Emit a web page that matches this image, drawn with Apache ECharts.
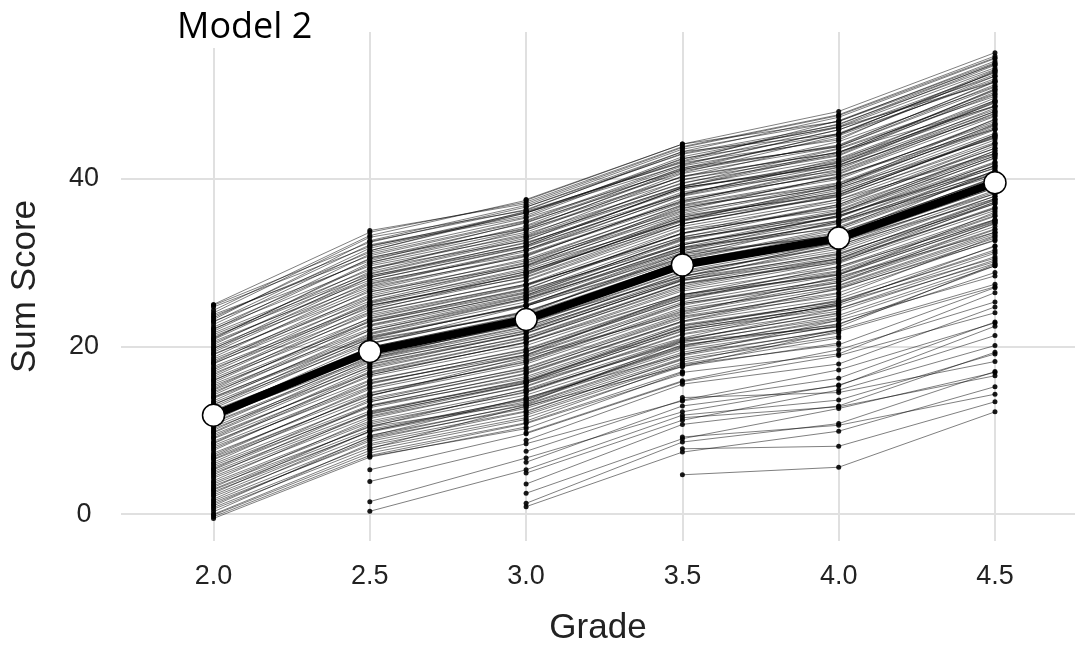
<!DOCTYPE html>
<html>
<head>
<meta charset="utf-8">
<script src="https://cdn.jsdelivr.net/npm/echarts@6/dist/echarts.min.js"></script>
<style>
html,body{margin:0;padding:0;background:#fff;}
#chart{width:1075px;height:651px;}
</style>
</head>
<body>
<div id="chart"></div>
<script>
// Grades (x positions) and tick labels
const grades = [2.0, 2.5, 3.0, 3.5, 4.0, 4.5];
const xTicks = [2.0, 2.5, 3.0, 3.5, 4.0, 4.5];
const yTicks = [0, 20, 40];

// Mean trajectory (thick line with white points)
const meanScores = [11.8, 19.4, 23.2, 29.7, 32.9, 39.5];

// Individual trajectories, one row per student: scores at grades 2.0 ... 4.5 (null = not observed)
const cohortFrom20 = [
  [25.0, 33.6, 37.2, 43.8, 47.6, 54.6],
  [24.9, 32.4, 36.6, 42.9, 46.1, 53.0],
  [24.7, 31.9, 36.0, 42.1, 46.9, 53.8],
  [24.3, 33.2, 37.4, 44.1, 48.0, 55.0],
  [24.0, 33.0, 36.2, 43.2, 47.3, 54.3],
  [23.8, 30.8, 34.9, 41.5, 44.8, 52.2],
  [23.6, 31.2, 35.3, 41.0, 45.4, 52.4],
  [23.4, 32.1, 35.6, 42.6, 46.2, 53.5],
  [23.2, 32.6, 36.8, 43.5, 46.8, 54.0],
  [23.0, 30.2, 34.8, 40.7, 45.1, 51.9],
  [22.9, 31.7, 35.9, 42.3, 46.5, 53.2],
  [22.6, 31.4, 36.1, 41.9, 44.6, 52.8],
  [22.3, 30.4, 34.1, 40.9, 44.0, 51.5],
  [22.1, 29.6, 33.2, 40.3, 43.1, 50.6],
  [22.0, 31.0, 35.0, 41.7, 45.8, 52.6],
  [21.8, 30.5, 34.7, 41.2, 45.3, 51.7],
  [21.6, 29.1, 33.9, 39.8, 43.6, 50.1],
  [21.4, 28.7, 32.9, 39.1, 42.4, 49.3],
  [21.2, 28.4, 32.3, 38.7, 42.1, 49.6],
  [21.0, 29.8, 33.6, 40.6, 43.8, 51.2],
  [20.9, 30.0, 34.3, 40.2, 44.4, 51.0],
  [20.8, 29.3, 32.6, 39.9, 42.8, 50.7],
  [20.6, 27.9, 31.8, 38.2, 41.9, 48.6],
  [20.4, 28.2, 32.0, 38.9, 41.5, 49.1],
  [20.2, 28.9, 33.1, 39.5, 42.7, 50.3],
  [20.0, 27.5, 31.5, 37.9, 41.3, 48.0],
  [19.8, 27.1, 30.7, 37.6, 40.5, 47.4],
  [19.7, 28.6, 32.7, 39.0, 43.0, 50.0],
  [19.5, 28.2, 32.4, 38.1, 42.0, 49.0],
  [19.3, 27.7, 31.0, 37.3, 41.1, 48.4],
  [19.1, 26.5, 30.2, 36.9, 40.1, 46.8],
  [19.0, 26.9, 30.9, 37.1, 40.8, 47.7],
  [18.7, 27.4, 31.3, 38.0, 41.6, 48.2],
  [18.5, 26.0, 30.0, 36.5, 39.5, 46.4],
  [18.3, 25.8, 29.6, 35.7, 39.2, 46.1],
  [18.1, 26.7, 30.8, 37.4, 40.6, 47.8],
  [18.0, 25.4, 29.7, 36.4, 40.2, 46.6],
  [17.9, 26.2, 30.4, 36.8, 39.9, 47.0],
  [17.6, 24.9, 28.5, 35.4, 38.3, 45.2],
  [17.4, 24.6, 28.9, 35.0, 38.9, 44.8],
  [17.2, 25.7, 29.9, 35.9, 39.4, 45.9],
  [17.0, 25.2, 29.3, 36.1, 39.0, 46.3],
  [16.8, 24.1, 27.8, 34.3, 37.5, 44.1],
  [16.6, 25.1, 28.9, 34.6, 38.1, 45.0],
  [16.4, 24.8, 28.6, 35.2, 38.6, 45.4],
  [16.2, 23.8, 27.4, 34.0, 37.2, 43.6],
  [16.0, 23.3, 27.2, 33.5, 36.6, 43.0],
  [15.9, 24.4, 28.3, 34.9, 38.4, 44.9],
  [15.7, 24.0, 27.9, 34.6, 37.9, 44.3],
  [15.5, 22.9, 26.5, 33.1, 35.9, 42.7],
  [15.3, 22.6, 26.3, 32.8, 35.8, 42.4],
  [15.1, 23.1, 26.8, 33.9, 36.3, 43.3],
  [14.9, 23.4, 27.3, 33.4, 36.9, 43.6],
  [14.8, 22.1, 26.0, 32.1, 35.5, 42.0],
  [14.6, 21.9, 25.7, 32.3, 35.0, 41.5],
  [14.4, 23.0, 26.9, 33.5, 36.7, 43.9],
  [14.2, 22.5, 26.4, 32.7, 36.2, 42.9],
  [14.0, 21.2, 24.9, 31.6, 34.6, 40.9],
  [13.9, 21.5, 25.6, 31.8, 35.6, 41.2],
  [13.8, 21.1, 24.8, 31.2, 34.3, 40.7],
  [13.5, 21.9, 25.9, 32.1, 35.4, 41.8],
  [13.3, 20.9, 25.0, 31.0, 34.9, 40.8],
  [13.1, 20.4, 24.1, 30.6, 33.6, 40.0],
  [13.0, 21.4, 25.3, 31.7, 35.0, 41.9],
  [12.8, 21.0, 24.9, 31.4, 34.7, 41.3],
  [12.6, 20.7, 23.9, 30.9, 33.2, 40.2],
  [12.4, 19.6, 23.3, 29.7, 32.5, 39.1],
  [12.2, 19.9, 23.7, 30.0, 33.0, 39.4],
  [12.0, 20.3, 24.2, 30.3, 33.9, 40.6],
  [11.9, 19.2, 23.0, 29.4, 32.6, 38.9],
  [11.7, 18.9, 22.6, 28.9, 31.8, 38.2],
  [11.5, 18.6, 22.4, 28.4, 31.3, 37.9],
  [11.3, 19.5, 23.4, 29.8, 33.1, 39.7],
  [11.1, 19.9, 23.8, 30.1, 33.5, 40.1],
  [11.0, 18.5, 22.3, 28.6, 32.3, 38.4],
  [10.9, 18.2, 21.8, 28.1, 31.0, 37.4],
  [10.6, 18.8, 22.7, 29.0, 32.4, 38.9],
  [10.4, 17.8, 21.5, 27.9, 31.1, 37.0],
  [10.2, 17.5, 21.1, 27.4, 30.2, 36.6],
  [10.0, 18.4, 22.1, 28.7, 32.0, 38.6],
  [9.8, 18.1, 21.9, 28.3, 31.6, 37.9],
  [9.7, 17.6, 21.6, 27.8, 30.9, 37.6],
  [9.5, 16.8, 20.4, 26.6, 29.5, 35.8],
  [9.3, 17.0, 20.9, 27.0, 30.4, 36.4],
  [9.1, 17.3, 21.2, 27.5, 30.7, 37.2],
  [9.0, 16.4, 20.1, 26.2, 29.0, 35.5],
  [8.7, 16.0, 19.6, 25.9, 28.7, 35.1],
  [8.5, 16.9, 20.8, 27.2, 30.5, 37.0],
  [8.4, 16.6, 20.5, 26.8, 30.1, 36.5],
  [8.2, 15.6, 19.3, 25.6, 28.9, 35.0],
  [8.0, 15.2, 18.9, 25.1, 28.0, 34.3],
  [7.8, 15.5, 19.4, 25.8, 28.6, 34.8],
  [7.6, 15.9, 19.7, 26.0, 29.3, 35.6],
  [7.3, 14.5, 18.1, 24.4, 27.2, 33.4],
  [7.1, 14.9, 18.6, 24.9, 28.1, 34.6],
  [6.9, 15.1, 19.0, 25.3, 28.5, 34.9],
  [6.8, 14.1, 18.4, 24.2, 27.6, 33.9],
  [6.6, 14.2, 17.9, 24.1, 27.3, 33.6],
  [6.5, 13.8, 17.4, 23.6, 26.4, 32.7],
  [6.2, 14.4, 18.2, 24.6, 27.8, 34.0],
  [6.0, 13.4, 17.2, 23.3, 26.8, 32.9],
  [5.8, 13.0, 16.7, 22.9, 25.7, 31.9],
  [5.6, 12.7, 16.4, 22.6, 25.3, 31.5],
  [5.4, 13.6, 17.5, 23.8, 27.0, 33.2],
  [5.3, 12.9, 16.2, 22.4, 25.4, 31.3],
  [5.1, 12.3, 15.9, 22.1, 24.9, 31.1],
  [4.9, 12.0, 15.6, 21.9, 24.5, 30.7],
  [4.7, 12.9, 16.8, 23.0, 26.3, null],
  [4.5, 11.9, 15.7, 21.8, 25.0, null],
  [4.3, 11.6, 15.2, 21.4, 24.2, 30.3],
  [4.0, 12.1, 16.0, 22.2, 25.5, null],
  [3.8, 11.1, 14.8, 20.4, 23.7, 29.9],
  [3.6, 10.9, 14.5, 20.6, 23.4, 29.6],
  [3.4, 10.4, 14.9, 20.9, 23.9, null],
  [3.2, 11.4, 15.3, 21.5, 24.8, null],
  [3.0, 10.5, 14.2, 20.1, 23.1, null],
  [2.9, 10.1, 13.7, 19.9, 22.7, 28.8],
  [2.7, 9.8, 13.4, 19.6, 22.4, null],
  [2.5, 10.7, 14.6, 20.8, 24.0, null],
  [2.3, 9.9, 13.6, 19.8, null, null],
  [2.1, 9.4, 13.0, 19.1, 21.9, null],
  [1.8, 9.9, 13.8, 20.0, 23.3, null],
  [1.6, 9.1, 12.6, 18.6, 21.6, null],
  [1.4, 8.7, 12.3, 18.4, 21.2, null],
  [1.2, 8.9, 12.8, 18.9, 22.0, null],
  [1.0, 9.2, 13.1, 19.3, 22.5, null],
  [0.8, 8.2, 11.8, 17.9, 21.0, null],
  [0.6, 7.9, 11.5, 17.6, 20.4, null],
  [0.3, 8.4, 12.2, 18.5, null, null],
  [0.0, 7.6, 11.3, null, null, null],
  [-0.1, 7.3, 10.9, 17.0, null, null],
  [-0.3, 7.0, 10.8, 16.7, null, null],
  [-0.5, 6.8, 10.4, null, null, null]
];

const cohortFrom25 = [
  [null, 0.35, 5.3, 11.8, 13.6, 19.1],
  [null, 1.5, 6.7, 12.2, 15.4, 21.3],
  [null, 3.9, 8.4, 13.5, 16.2, 22.9],
  [null, 5.3, 9.6, 15.8, 18.9, 24.0],
  [null, 6.9, 10.2, 16.9, 19.1, 26.4],
  [null, 7.8, 12.9, 17.6, 21.8, 27.1],
  [null, 9.3, 13.9, 19.0, 23.1, 28.4],
  [null, 10.4, 13.2, 20.6, 22.3, 29.8],
  [null, 11.7, 15.6, 21.0, 25.2, 30.5],
  [null, 12.2, 15.8, 22.1, 24.9, null],
  [null, 13.4, 17.1, 23.5, 26.0, 33.1],
  [null, 14.1, 18.8, 23.9, 28.3, 33.6],
  [null, 15.7, 19.0, 26.2, 28.5, 36.0],
  [null, 16.6, 20.5, 26.1, 29.9, 36.2],
  [null, 17.9, 21.6, 27.9, 30.4, 37.5],
  [null, 18.6, 22.9, 28.3, 32.5, 38.2],
  [null, 19.5, 23.6, 29.5, 32.4, 39.6],
  [null, 20.3, 24.8, 30.4, 34.1, 40.6],
  [null, 20.8, 24.0, 31.1, 33.2, 41.0],
  [null, 21.6, 25.7, 31.4, 35.6, 41.5],
  [null, 22.4, 26.1, 32.6, 36.0, 42.7],
  [null, 22.9, 26.7, 32.1, 35.9, 43.3],
  [null, 23.6, 27.4, 33.0, 36.9, 44.2],
  [null, 24.3, 28.7, 35.1, 37.8, 44.6],
  [null, 24.9, 28.2, 34.6, 38.0, 45.2],
  [null, 25.3, 29.1, 35.4, 38.8, 45.8],
  [null, 26.5, 29.6, 36.7, 39.2, 47.1],
  [null, 27.2, 31.5, 37.2, 41.4, 47.5],
  [null, 27.9, 31.9, 38.1, 42.3, 48.7],
  [null, 28.4, 32.0, 38.9, 41.8, 49.3],
  [null, 29.3, 33.4, 39.4, 43.5, 49.8],
  [null, 30.0, 33.9, 40.2, 43.1, 50.5],
  [null, 30.6, 34.0, 41.1, 43.9, 51.6],
  [null, 31.4, 35.9, 41.6, 45.8, 52.2],
  [null, 32.0, 35.4, 42.4, 45.2, 52.9],
  [null, 32.5, 36.3, 43.0, 46.4, 53.7],
  [null, 33.8, 37.0, 43.7, 47.5, 54.4]
];

const cohortFrom30 = [
  [null, null, 0.9, 7.4, 9.9, 15.2],
  [null, null, 1.3, 8.6, 10.8, 17.0],
  [null, null, 2.5, 9.0, 12.6, 16.9],
  [null, null, 3.6, 10.7, 12.9, 19.3],
  [null, null, 4.9, 11.2, 14.8, 20.1],
  [null, null, 6.2, 12.9, 15.3, 22.4],
  [null, null, 7.5, 13.6, 17.2, 22.8],
  [null, null, 8.8, 15.5, 17.9, 24.7],
  [null, null, 9.7, 15.9, 19.6, 25.3],
  [null, null, 11.1, 17.8, 20.2, 27.0],
  [null, null, 12.0, 18.1, 22.0, 27.4],
  [null, null, 13.4, 20.2, 22.6, 29.6],
  [null, null, 14.6, 20.7, 24.5, 30.1],
  [null, null, 15.8, 22.5, 25.1, 32.0],
  [null, null, 16.9, 23.0, 26.9, 32.6],
  [null, null, 18.3, 25.1, 27.6, 34.7],
  [null, null, 19.4, 25.6, 29.5, 35.1],
  [null, null, 20.9, 27.5, 30.0, 37.2],
  [null, null, 22.0, 28.0, 32.1, 37.6],
  [null, null, 23.4, 30.2, 32.7, 39.8],
  [null, null, 24.8, 30.6, 34.9, 40.3],
  [null, null, 25.5, 31.8, 34.1, 41.6],
  [null, null, 26.1, 32.9, 35.4, 42.5],
  [null, null, 27.3, 33.5, 37.5, 43.0],
  [null, null, 28.8, 35.6, 38.1, 45.1],
  [null, null, 29.5, 35.0, 39.2, 46.5],
  [null, null, 30.2, 36.2, 40.3, 45.9],
  [null, null, 31.5, 38.4, 40.9, 48.0],
  [null, null, 32.2, 38.9, 41.6, 49.2],
  [null, null, 33.0, 39.1, 43.2, 48.6],
  [null, null, 34.4, 41.3, 43.8, 50.9],
  [null, null, 35.9, 42.0, 46.1, 51.5],
  [null, null, 36.6, 43.2, 45.3, 52.7],
  [null, null, 37.5, 44.1, 46.8, 53.6]
];

const cohortFrom35 = [
  [null, null, null, 4.7, 5.6, 12.2],
  [null, null, null, 7.8, 8.1, 13.4],
  [null, null, null, 9.2, 10.6, 14.3],
  [null, null, null, 11.5, 12.8, 16.5],
  [null, null, null, 13.9, 14.5, 18.2]
];

const trajectories = [].concat(cohortFrom20, cohortFrom25, cohortFrom30, cohortFrom35);

const chart = echarts.init(document.getElementById('chart'), null, {renderer: 'canvas'});

const series = trajectories.map(function (row) {
  const pts = [];
  row.forEach(function (v, i) { if (v !== null) pts.push([grades[i], v]); });
  return {
    type: 'line',
    data: pts,
    silent: true,
    animation: false,
    showSymbol: true,
    symbol: 'circle',
    symbolSize: 5,
    itemStyle: {color: '#000', opacity: 0.9},
    lineStyle: {color: '#000', width: 1, opacity: 0.5},
    z: 2
  };
});

series.push({
  type: 'line',
  data: grades.map(function (g, i) { return [g, meanScores[i]]; }),
  silent: true,
  animation: false,
  symbol: 'circle',
  symbolSize: 22,
  itemStyle: {color: '#fff', borderColor: '#000', borderWidth: 1.5},
  lineStyle: {color: '#000', width: 8},
  z: 5
});

const tickFont = {fontFamily: 'Liberation Sans', fontSize: 27, color: '#222'};

chart.setOption({
  backgroundColor: '#fff',
  animation: false,
  title: {
    text: 'Model 2',
    left: 173,
    top: 8,
    padding: [2, 4, 2, 4],
    backgroundColor: '#fff',
    textStyle: {fontFamily: 'Open Sans', fontSize: 36, fontWeight: 'normal', color: '#000'}
  },
  grid: {left: 120, right: 0, top: 32, bottom: 105, containLabel: false},
  xAxis: {
    type: 'value',
    min: 1.704,
    max: 4.756,
    name: 'Grade',
    nameLocation: 'middle',
    nameGap: 70,
    nameTextStyle: {fontFamily: 'Liberation Sans', fontSize: 35, color: '#222'},
    axisLine: {show: false},
    axisTick: {show: false, customValues: xTicks},
    axisLabel: Object.assign({customValues: xTicks, margin: 22, formatter: function (v) { return v.toFixed(1); }}, tickFont),
    splitLine: {show: true, lineStyle: {color: '#e0e0e0', width: 2}}
  },
  yAxis: {
    type: 'value',
    min: -3.19,
    max: 57.46,
    name: 'Sum Score',
    nameLocation: 'middle',
    nameGap: 78,
    nameRotate: 90,
    nameTextStyle: {fontFamily: 'Liberation Sans', fontSize: 35, color: '#222'},
    axisLine: {show: false},
    axisTick: {show: false, customValues: yTicks},
    axisLabel: Object.assign({customValues: yTicks, margin: 37, align: 'center'}, tickFont),
    splitLine: {show: true, lineStyle: {color: '#e0e0e0', width: 2}}
  },
  series: series
});
</script>
</body>
</html>
